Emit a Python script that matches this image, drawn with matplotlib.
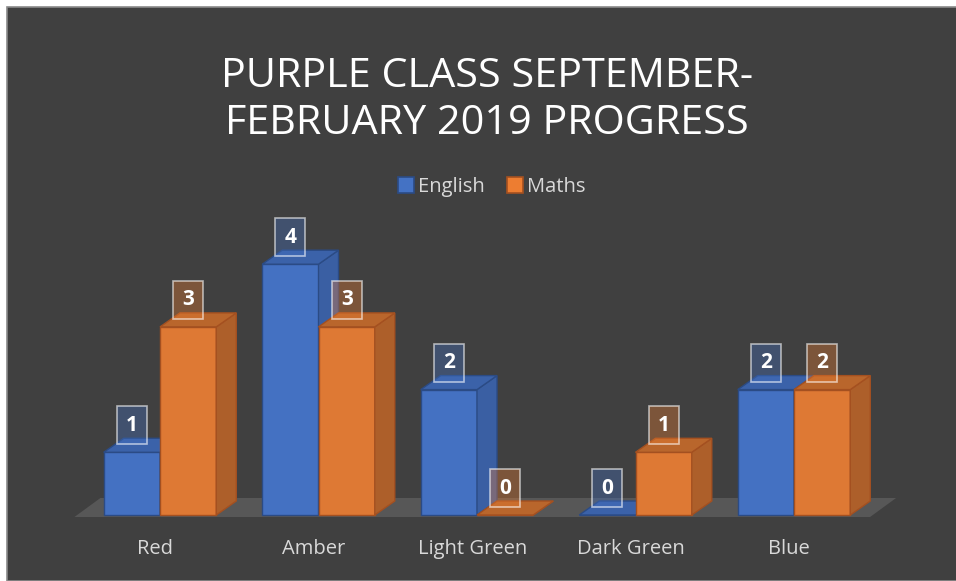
import matplotlib.pyplot as plt
from matplotlib.patches import Rectangle, Polygon, Patch

# data
categories = ['Red', 'Amber', 'Light Green', 'Dark Green', 'Blue']
english = [1, 4, 2, 0, 2]
maths = [3, 3, 0, 1, 2]
series_names = ['English', 'Maths']

W, H = 956, 581
fig = plt.figure(figsize=(W / 100, H / 100), dpi=100)
fig.patch.set_facecolor('white')

# axes over whole figure; data units: 1 category = 158.5 px, 1 value = 62.7 px
ax = fig.add_axes([0, 0, 1, 1])
ax.set_zorder(2)
xs, ys = 158.5, 62.7
x0px, y0px = 160, 515
ax.set_xlim(-x0px / xs, (W - x0px) / xs)
ax.set_ylim(-(H - y0px) / ys, y0px / ys)
ax.axis('off')


def px(dx=0, dy=0):
    return dx / xs, dy / ys


# background panel
bg = Rectangle((7 / W, 0), 1, (H - 7) / H, transform=fig.transFigure,
               facecolor='#404040', edgecolor='#8a8a8a', lw=1.2, zorder=-10)
fig.patches.append(bg)

# floor
fdx, fdy = px(26, 19)
_, fdrop = px(0, 2)
floor_left = -0.5 - 0.04
floor_right = len(categories) - 1 + 0.5 - 0.02
ax.add_patch(Polygon([(floor_left, -fdrop), (floor_left + fdx, fdy - fdrop),
                      (floor_right + fdx, fdy - fdrop), (floor_right, -fdrop)],
                     closed=True, facecolor='#575757', edgecolor='none', zorder=1))

bw = 0.355
ddx, ddy = px(20, 14)

styles = {
    'English': dict(front='#4471c2', side='#3a5fa3', top='#3b62a9', edge='#2b4b85',
                    label_bg='#4472c4'),
    'Maths': dict(front='#de7934', side='#ad5f2a', top='#b9662c', edge='#a45020',
                  label_bg='#ed7d31'),
}


def bar3d(xl, v, st, z):
    xr = xl + bw
    lw = 1.0
    # front
    ax.add_patch(Rectangle((xl, 0), bw, v, facecolor=st['front'], edgecolor=st['edge'],
                           lw=lw, zorder=z))
    # side
    ax.add_patch(Polygon([(xr, 0), (xr + ddx, ddy), (xr + ddx, v + ddy), (xr, v)],
                         closed=True, facecolor=st['side'], edgecolor=st['edge'], lw=lw, zorder=z))
    # top
    ax.add_patch(Polygon([(xl, v), (xl + ddx, v + ddy), (xr + ddx, v + ddy), (xr, v)],
                         closed=True, facecolor=st['top'], edgecolor=st['edge'], lw=lw, zorder=z))


bwl, bhl = px(30, 38)
_, lab_off = px(0, 27)


def label(xc, v, st, z):
    yc = v + lab_off
    ax.add_patch(Rectangle((xc - bwl / 2, yc - bhl / 2), bwl, bhl,
                           facecolor=st['label_bg'], alpha=0.35, edgecolor='none', zorder=z))
    ax.add_patch(Rectangle((xc - bwl / 2, yc - bhl / 2), bwl, bhl,
                           facecolor='none', edgecolor=(1, 1, 1, 0.6), lw=1.2, zorder=z + 0.1))
    ax.text(xc, yc, str(v), ha='center', va='center', color='white',
            fontsize=15, fontweight='bold', family='Open Sans', zorder=z + 0.2)


z = 2
for i, cat in enumerate(categories):
    bar3d(i - bw, english[i], styles['English'], z)
    z += 1
    bar3d(i, maths[i], styles['Maths'], z)
    z += 1
for i in range(len(categories)):
    label(i - bw / 2, english[i], styles['English'], 30)
    label(i + bw / 2, maths[i], styles['Maths'], 30)

# category labels
_, cat_y = px(0, -34)
for i, cat in enumerate(categories):
    ax.text(i - 0.03, cat_y, cat, ha='center', va='center', color='#d9d9d9',
            fontsize=14.5, family='Open Sans', zorder=40)

# title
fig.text(487 / W, 1 - 100 / H, 'PURPLE CLASS SEPTEMBER-\nFEBRUARY 2019 PROGRESS',
         ha='center', va='center', color='white', fontsize=29.8, family='Open Sans',
         linespacing=1.2)

# legend
handles = [Patch(facecolor=styles[n]['label_bg'], edgecolor=styles[n]['edge'], lw=1.2, label=n)
           for n in series_names]
leg = fig.legend(handles=handles, loc='center', bbox_to_anchor=(492 / W, 1 - 187 / H), ncol=2,
                 frameon=False, handlelength=0.8, handleheight=0.8, handletextpad=0.2,
                 columnspacing=1.1, prop={'family': 'Open Sans', 'size': 14.5})
for t in leg.get_texts():
    t.set_color('#d9d9d9')

fig.savefig('out.png', dpi=100, facecolor=fig.get_facecolor())
